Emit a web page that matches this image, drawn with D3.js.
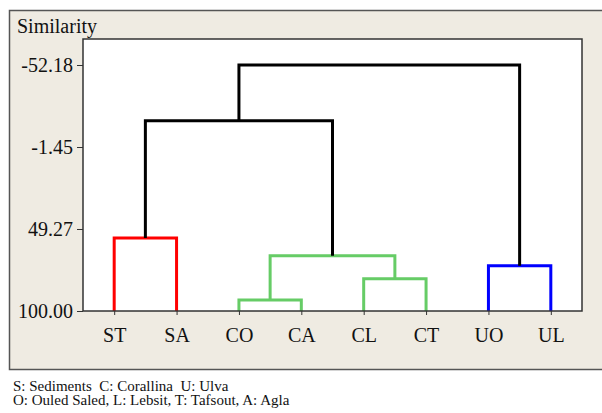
<!DOCTYPE html>
<html><head><meta charset="utf-8">
<script src="https://cdn.jsdelivr.net/npm/d3@7"></script>
<style>body{margin:0;background:#fff}svg{display:block}text{white-space:pre}</style>
</head><body>
<svg id="c" width="602" height="413"></svg>
<script>
const leaves = ["ST","SA","CO","CA","CL","CT","UO","UL"];
const yTicks = [-52.18, -1.45, 49.27, 100.00];
// merges: [left, right, similarity, color]
const merges = [
  ["ST","SA",54.9,"#ff0000"],
  ["CO","CA",93.2,"#66cc66"],
  ["CL","CT",80.0,"#66cc66"],
  ["CO+CA","CL+CT",65.8,"#66cc66"],
  ["UO","UL",72.0,"#0000ff"],
  ["ST+SA","CO+CA+CL+CT",-17.7,"#000000"],
  ["ST+SA+CO+CA+CL+CT","UO+UL",-52.18,"#000000"]
];
const notes = ["S: Sediments  C: Corallina  U: Ulva","O: Ouled Saled, L: Lebsit, T: Tafsout, A: Agla"];

const svg = d3.select("#c");
const F = "'Liberation Serif','Times New Roman',serif";
const L=83,R=582,T=39,B=311;
svg.append("rect").attr("x",9.5).attr("y",10.5).attr("width",600).attr("height",359)
  .attr("fill","#efebe2").attr("stroke","#555").attr("stroke-width",1.5);
svg.append("rect").attr("x",L).attr("y",T).attr("width",R-L).attr("height",B-T).attr("fill","#fff");

const x = d3.scalePoint().domain(leaves).range([L,R]).padding(0.5);
const y = d3.scaleLinear().domain([100,-52.18]).range([B,65]);

const nodes = {};
leaves.forEach(l=>nodes[l]={x:x(l),h:100});
merges.forEach(([a,b,h,col])=>{
  const na=nodes[a], nb=nodes[b];
  svg.append("path")
    .attr("d",`M${na.x},${y(na.h)}V${y(h)}H${nb.x}V${y(nb.h)}`)
    .attr("fill","none").attr("stroke",col).attr("stroke-width",3);
  nodes[a+"+"+b]={x:(na.x+nb.x)/2,h:h};
});
svg.append("rect").attr("x",L).attr("y",T).attr("width",R-L).attr("height",B-T)
  .attr("fill","none").attr("stroke","#333").attr("stroke-width",1.5);

const fmt = v => d3.format(".2f")(v).replace("\u2212","-");
const ya = svg.append("g").attr("transform",`translate(${L},0)`)
  .call(d3.axisLeft(y).tickValues(yTicks).tickFormat(fmt).tickSize(6).tickSizeOuter(0).tickPadding(4));
ya.select(".domain").remove();
ya.selectAll("text").attr("font-family",F).attr("font-size",20).attr("fill","#111");
ya.selectAll("line").attr("stroke","#333");

const xa = svg.append("g").attr("transform",`translate(0,${B})`)
  .call(d3.axisBottom(x).tickSize(4).tickSizeOuter(0).tickPadding(13));
xa.select(".domain").remove();
xa.selectAll("text").attr("font-family",F).attr("font-size",20).attr("fill","#111");
xa.selectAll("line").attr("stroke","#333");

svg.append("text").attr("x",17).attr("y",33).attr("font-family",F).attr("font-size",20).attr("fill","#111").text("Similarity");
notes.forEach((t,i)=>svg.append("text").attr("x",13).attr("y",391+i*14).attr("font-family",F).attr("font-size",15).attr("fill","#111").text(t));
</script>
</body></html>
